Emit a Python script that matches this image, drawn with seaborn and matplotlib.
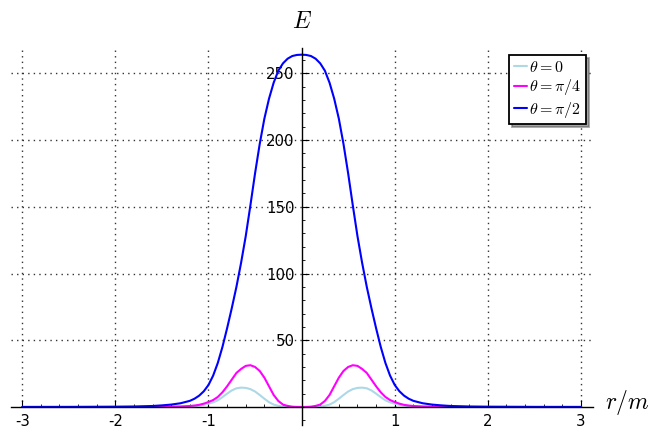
#!/usr/bin/env python3

import numpy as np
import pandas as pd
import matplotlib
matplotlib.use("Agg")
import matplotlib.pyplot as plt
from matplotlib.ticker import MultipleLocator
import seaborn as sns

# r/m samples (right half; the curves are symmetric about r = 0)
r_half = [0.0, 0.05, 0.1, 0.15, 0.2, 0.25, 0.3, 0.35, 0.4, 0.45, 0.5, 0.55,
          0.6, 0.65, 0.7, 0.75, 0.8, 0.85, 0.9, 0.95, 1.0, 1.05, 1.1, 1.15,
          1.2, 1.3, 1.4, 1.5, 1.6, 1.8, 2.0, 2.5, 3.0]

# E
e_theta_0 = [0.0, 0.0, 0.02, 0.1, 0.35, 0.9, 1.8, 3.6, 6.2, 9.0, 11.6, 13.4,
             14.3, 14.5, 14.0, 12.4, 10.0, 7.4, 5.0, 3.5, 2.5, 1.6, 1.0, 0.65,
             0.4, 0.18, 0.08, 0.04, 0.02, 0.01, 0.0, 0.0, 0.0]
e_theta_pi4 = [0.0, 0.02, 0.2, 0.8, 1.8, 4.5, 9.0, 15.5, 22.0, 27.0, 30.0, 31.3,
               30.8, 28.5, 25.5, 20.5, 15.5, 11.0, 7.5, 5.2, 3.7, 2.5, 1.6, 1.1,
               0.75, 0.35, 0.18, 0.1, 0.05, 0.02, 0.01, 0.0, 0.0]
e_theta_pi2 = [264.0, 263.8, 263.0, 261.0, 257.5, 252.0, 243.0, 231.0, 216.0,
               197.0, 175.0, 151.0, 128.0, 108.0, 90.0, 74.0, 59.0, 45.0, 33.0,
               23.5, 16.5, 11.8, 8.5, 6.2, 4.6, 2.8, 1.8, 1.2, 0.75, 0.35, 0.2,
               0.05, 0.02]

series_labels = [r"$\theta = 0$", r"$\theta = \pi/4$", r"$\theta = \pi/2$"]
series_colors = ["lightblue", "#ff00ff", "#0000ff"]

x_ticks = [-3, -2, -1, 1, 2, 3]
y_ticks = [50, 100, 150, 200, 250]


def mirrored(values):
    values = np.asarray(values, dtype=float)
    return np.concatenate([values[:0:-1], values])


r_full = np.concatenate([-np.asarray(r_half)[:0:-1], r_half])
frames = []
for label, values in zip(series_labels, [e_theta_0, e_theta_pi4, e_theta_pi2]):
    frames.append(pd.DataFrame({"r": r_full, "E": mirrored(values), "theta": label}))
df = pd.concat(frames, ignore_index=True)

sns.set_theme(style="white")
plt.rcParams["font.family"] = ["DejaVu Sans"]
plt.rcParams["mathtext.fontset"] = "cm"
plt.rcParams["text.color"] = "black"

fig = plt.figure(figsize=(6.64, 4.40), dpi=100)
ax = fig.add_axes([10.6 / 664, 15 / 440, 582 / 664, 377 / 440])

xlim = (-3.125, 3.125)
ylim = (-13.5, 269)

# dotted grid drawn first so the curves sit on top
for xv in x_ticks:
    ax.vlines(xv, 0, ylim[1], colors="0.2", linewidth=1.0,
              linestyles=(0, (1.0, 3.0)), zorder=0)
for yv in y_ticks:
    ax.hlines(yv, xlim[0], xlim[1], colors="0.2", linewidth=1.0,
              linestyles=(0, (1.0, 3.0)), zorder=0)

sns.lineplot(data=df, x="r", y="E", hue="theta", palette=series_colors,
             hue_order=series_labels, estimator=None, sort=True,
             linewidth=1.5, ax=ax)

ax.set_xlim(*xlim)
ax.set_ylim(*ylim)
ax.set_xlabel("")
ax.set_ylabel("")

for side in ["top", "right"]:
    ax.spines[side].set_visible(False)
ax.spines["left"].set_position(("data", 0))
ax.spines["bottom"].set_position(("data", 0))
for side in ["left", "bottom"]:
    ax.spines[side].set_color("black")
    ax.spines[side].set_linewidth(1.0)

ax.set_xticks(x_ticks)
ax.set_xticklabels([str(v) for v in x_ticks])
ax.set_yticks(y_ticks)
ax.set_yticklabels([str(v) for v in y_ticks])
ax.xaxis.set_minor_locator(MultipleLocator(0.2))
ax.yaxis.set_minor_locator(MultipleLocator(10))
ax.tick_params(which="major", direction="in", length=5, width=0.8,
               color="black", labelcolor="black", labelsize=10.7, pad=5,
               bottom=True, left=True)
ax.tick_params(which="minor", direction="in", length=2.5, width=0.6,
               color="black", bottom=True, left=True)

fig.text(302 / 664, 1 - 21 / 440, "$E$", ha="center", va="center", fontsize=17)
fig.text(605 / 664, 1 - 402 / 440, "$r/m$", ha="left", va="center", fontsize=17)

leg = ax.legend(loc="upper right", bbox_to_anchor=(586 / 664, 1 - 55 / 440),
                bbox_transform=fig.transFigure, borderaxespad=0,
                fontsize=11.5, handlelength=0.8, handletextpad=0.15,
                borderpad=0.3, labelspacing=0.15, frameon=True,
                fancybox=False, shadow=True, framealpha=1)
leg.get_frame().set_edgecolor("black")
leg.get_frame().set_linewidth(1.3)

fig.savefig("out.png", dpi=100, facecolor="white")
